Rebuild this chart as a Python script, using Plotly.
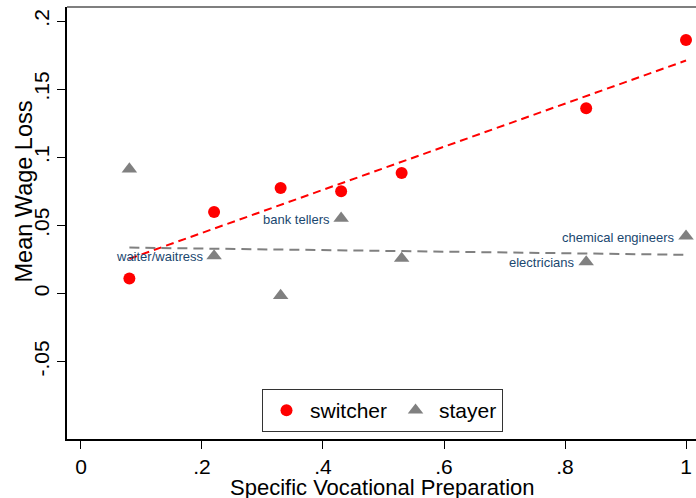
import plotly.graph_objects as go

# ---- data ----
svp = [0.08, 0.22, 0.33, 0.43, 0.53, 0.835, 1.0]
switcher = [0.011, 0.0598, 0.0774, 0.075, 0.0884, 0.136, 0.186]
stayer = [0.0913, 0.0276, -0.0015, 0.0552, 0.0257, 0.0232, 0.0421]
stayer_labels = ["", "waiter/waitress", "", "bank tellers", "", "electricians", "chemical engineers"]

fit_x = [0.08, 1.0]
switcher_fit = [0.0255, 0.171]
stayer_fit = [0.0337, 0.0284]

x_tickvals = [0, 0.2, 0.4, 0.6, 0.8, 1.0]
x_ticktext = ["0", ".2", ".4", ".6", ".8", "1"]
y_tickvals = [-0.05, 0, 0.05, 0.1, 0.15, 0.2]
y_ticktext = ["-.05", "0", ".05", ".1", ".15", ".2"]

x_title = "Specific Vocational Preparation"
y_title = "Mean Wage Loss"

FONT = "Liberation Sans, Arial, Helvetica, sans-serif"
RED = "#ff0000"
GREY = "#808080"
NAVY = "#1a476f"

fig = go.Figure()

fig.add_trace(go.Scatter(x=fit_x, y=switcher_fit, mode="lines",
                         line=dict(color=RED, width=2, dash="8px,5px"),
                         showlegend=False, hoverinfo="skip", cliponaxis=False))
fig.add_trace(go.Scatter(x=fit_x, y=stayer_fit, mode="lines",
                         line=dict(color=GREY, width=2, dash="10px,6px"),
                         showlegend=False, hoverinfo="skip", cliponaxis=False))

fig.add_trace(go.Scatter(x=svp, y=switcher, mode="markers", name="switcher",
                         marker=dict(symbol="circle", size=12, color=RED), cliponaxis=False))
fig.add_trace(go.Scatter(x=svp, y=stayer, mode="markers", name="stayer",
                         marker=dict(symbol="triangle-up", size=13.5, color=GREY), cliponaxis=False))

for xv, yv, lab in zip(svp, stayer, stayer_labels):
    if lab:
        fig.add_annotation(x=xv, y=yv, text=lab, showarrow=False,
                           xanchor="right", yanchor="middle", xshift=-9, yshift=-1,
                           font=dict(family=FONT, size=13, color=NAVY))

# axis titles
fig.add_annotation(xref="paper", yref="paper", x=0.502, y=-0.1134, text=x_title,
                   showarrow=False, xanchor="center", yanchor="middle",
                   font=dict(family=FONT, size=22, color="black"))
fig.add_annotation(xref="paper", yref="paper", x=-0.0690, y=0.572, text=y_title,
                   showarrow=False, xanchor="center", yanchor="middle", textangle=-90,
                   font=dict(family=FONT, size=23.5, color="black"))

# top frame line (grey)
fig.add_shape(type="line", xref="paper", yref="paper", x0=0, x1=1, y0=1, y1=1,
              line=dict(color="#555555", width=1.5))

fig.update_layout(
    width=696, height=498,
    margin=dict(l=67, r=0, t=7, b=59, autoexpand=False),
    paper_bgcolor="white", plot_bgcolor="white",
    font=dict(family=FONT, size=21, color="black"),
    showlegend=True,
    legend=dict(orientation="h", x=0.5016, xanchor="center", y=0.1157, yanchor="top",
                bordercolor="#333333", borderwidth=1, bgcolor="white",
                font=dict(family=FONT, size=21, color="black"),
                itemwidth=37, itemsizing="trace"),
    xaxis=dict(range=[-0.0231, 1.0165], tickvals=x_tickvals, ticktext=x_ticktext,
               automargin=False,
               showgrid=False, zeroline=False, showline=True, linecolor="black", linewidth=2,
               ticks="outside", ticklen=8, tickcolor="black", tickwidth=1,
               tickfont=dict(size=21)),
    yaxis=dict(range=[-0.1068, 0.2103], tickvals=y_tickvals, ticktext=y_ticktext,
               automargin=False,
               showgrid=False, zeroline=False, showline=True, linecolor="black", linewidth=2,
               ticks="outside", ticklen=8, tickcolor="black", tickwidth=1,
               tickangle=-90, tickfont=dict(size=21)),
)

fig.write_html("out.html", config={"displayModeBar": False},
               post_script="document.body.style.margin='0';")
